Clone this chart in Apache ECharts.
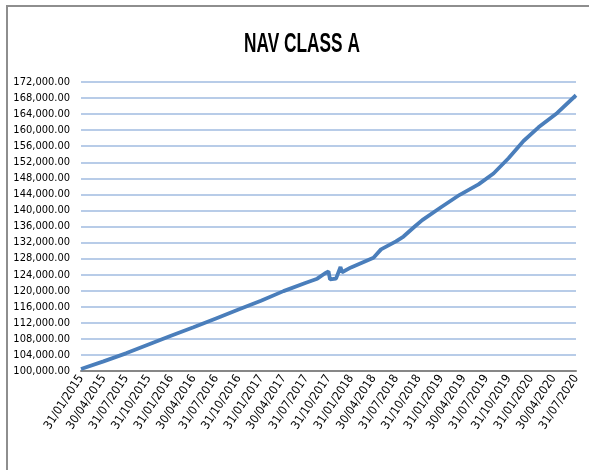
<!DOCTYPE html>
<html lang="en">
<head>
  <meta charset="UTF-8">
  <title>NAV CLASS A</title>
  <script src="https://cdn.jsdelivr.net/npm/echarts@6/dist/echarts.min.js"></script>
  <style>
    html, body { margin: 0; padding: 0; background: #fff; }
    #chart { width: 589px; height: 470px; }
  </style>
</head>
<body>
<div id="chart"></div>
<script>
  // tick labels, one every 3 months
  var dateLabels = [
    '31/01/2015', '30/04/2015', '31/07/2015', '31/10/2015',
    '31/01/2016', '30/04/2016', '31/07/2016', '31/10/2016',
    '31/01/2017', '30/04/2017', '31/07/2017', '31/10/2017',
    '31/01/2018', '30/04/2018', '31/07/2018', '31/10/2018',
    '31/01/2019', '30/04/2019', '31/07/2019', '31/10/2019',
    '31/01/2020', '30/04/2020', '31/07/2020'
  ];

  // months since 31/01/2015
  var navMonths = [
    0, 3, 6, 9, 12, 15, 18, 21, 24, 27, 30, 31.5, 32.5, 33,
    33.2, 34, 34.6, 34.8, 36, 39, 40, 42, 43, 44.5, 45.5,
    48, 50.5, 53, 55, 57, 59, 61, 63.5, 66
  ];
  var navValues = [
    100500, 102400, 104400, 106600, 108800, 110900, 113100, 115300, 117500, 119900, 122000, 123000, 124300, 124800,
    122800, 123000, 125900, 124600, 125800, 128200, 130300, 132300, 133500, 136000, 137600,
    140800, 143900, 146500, 149200, 153000, 157300, 160700, 164300, 168700
  ];

  var chart = echarts.init(document.getElementById('chart'));

  var labelFont = '"DejaVu Sans Condensed", "Liberation Sans", sans-serif';

  var option = {
    animation: false,
    backgroundColor: '#ffffff',
    graphic: [{
      type: 'rect',
      shape: { x: 7, y: 6, width: 600, height: 480 },
      style: { fill: 'none', stroke: '#8e8e8e', lineWidth: 2 },
      silent: true
    }, {
      // squeezed bold title, like the narrow font of the original
      type: 'text',
      x: 302,
      y: 45,
      scaleX: 0.64,
      style: {
        text: 'NAV CLASS A',
        font: 'bold 27px "Liberation Sans", Arial, sans-serif',
        fill: '#000',
        align: 'center',
        verticalAlign: 'middle'
      },
      silent: true
    }],
    grid: { left: 81, right: 13, top: 82, bottom: 99 },
    xAxis: {
      type: 'value',
      min: 0,
      max: 66,
      interval: 3,
      axisLine: { show: true, onZero: false, lineStyle: { color: '#878787', width: 2 } },
      axisTick: { show: false },
      splitLine: { show: false },
      axisLabel: {
        rotate: 57,
        margin: 5,
        fontFamily: labelFont,
        fontSize: 12,
        color: '#000',
        formatter: function (v) { return dateLabels[Math.round(v / 3)] || ''; }
      }
    },
    yAxis: {
      type: 'value',
      min: 100000,
      max: 172000,
      interval: 4000,
      axisLine: { show: false },
      axisTick: { show: false },
      splitLine: { lineStyle: { color: '#b8cce8', width: 2 } },
      axisLabel: {
        margin: 11,
        fontFamily: labelFont,
        fontSize: 11,
        color: '#000',
        formatter: function (v) {
          return v.toLocaleString('en-US', { minimumFractionDigits: 2, maximumFractionDigits: 2 });
        }
      }
    },
    series: [{
      type: 'line',
      data: navMonths.map(function (m, i) { return [m, navValues[i]]; }),
      showSymbol: false,
      lineStyle: { color: '#4a7ebb', width: 3.8 },
      itemStyle: { color: '#4a7ebb' }
    }]
  };

  chart.setOption(option);
</script>
</body>
</html>
